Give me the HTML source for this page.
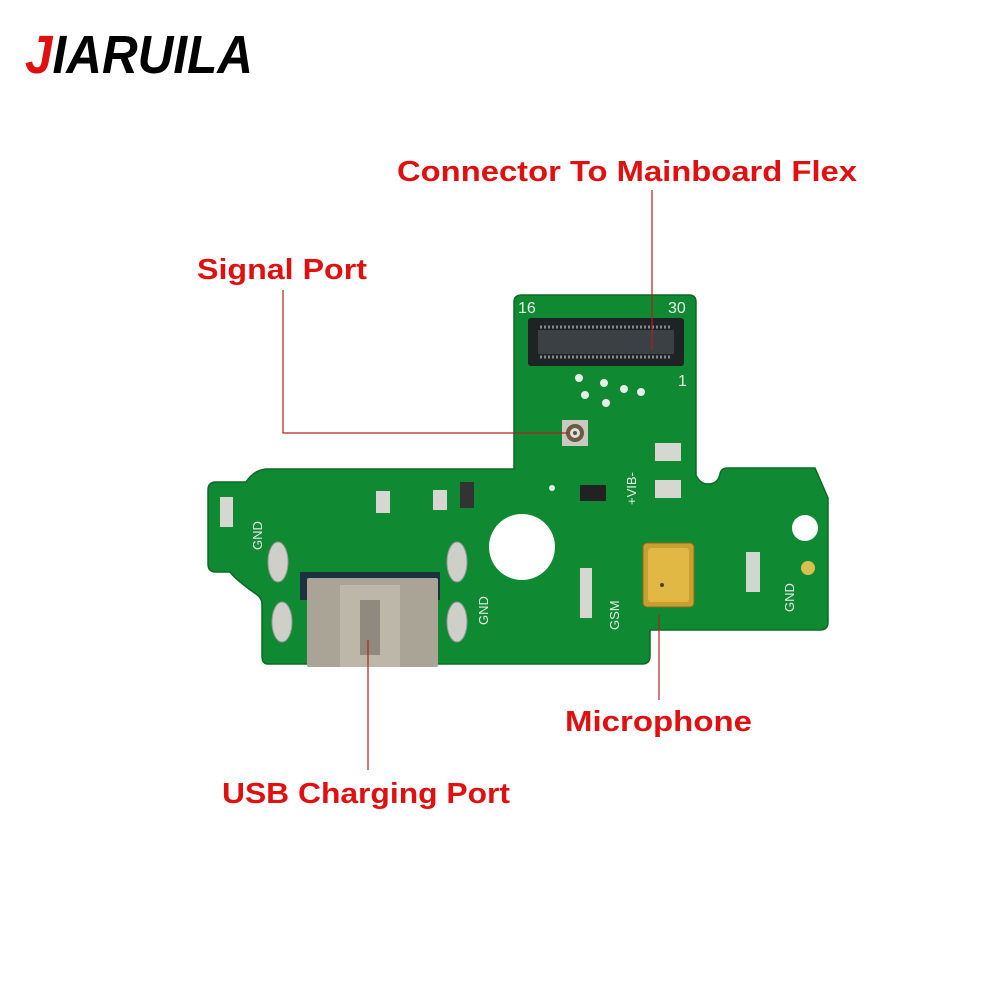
<!DOCTYPE html>
<html><head><meta charset="utf-8"><style>html,body{margin:0;padding:0;background:#fff}svg{display:block}</style></head>
<body>
<svg width="1000" height="1000" viewBox="0 0 1000 1000" xmlns="http://www.w3.org/2000/svg">
<rect width="1000" height="1000" fill="#fff"/>
<text x="25" y="73" font-family="Liberation Sans, sans-serif" font-weight="bold" font-style="italic" font-size="54" textLength="228" lengthAdjust="spacingAndGlyphs" fill="#000"><tspan fill="#e01010">J</tspan>IARUILA</text>

<!-- PCB -->
<path d="M522,295 H689 Q696,295 696,302 V475 Q700,484 708,484 Q718,484 720,474 Q721,468 728,468 H815 L828,498 V622 Q828,630 820,630 H650 V656 Q650,664 642,664 H268 Q262,664 262,656 V604 Q262,598 256,594 Q236,580 230,572 H216 Q208,572 208,564 V490 Q208,482 216,482 H246 Q254,470 266,469 H514 V302 Q514,295 522,295 Z" fill="#0f8a32" stroke="#0a6a25" stroke-width="1.5"/>
<circle cx="522" cy="547" r="33" fill="#fff"/>
<circle cx="805" cy="528" r="13" fill="#fff"/>
<circle cx="808" cy="568" r="7" fill="#d9c050"/>
<!-- connector -->
<rect x="528" y="318" width="156" height="48" rx="3" fill="#1e2326"/>
<rect x="538" y="330" width="136" height="24" fill="#3a4044"/>
<line x1="540" y1="327" x2="672" y2="327" stroke="#888" stroke-width="3" stroke-dasharray="2,2"/>
<line x1="540" y1="357" x2="672" y2="357" stroke="#888" stroke-width="3" stroke-dasharray="2,2"/>
<text x="518" y="313" font-family="Liberation Sans, sans-serif" font-size="16" fill="#e8f0e8">16</text>
<text x="668" y="313" font-family="Liberation Sans, sans-serif" font-size="16" fill="#e8f0e8">30</text>
<text x="678" y="386" font-family="Liberation Sans, sans-serif" font-size="16" fill="#e8f0e8">1</text>
<!-- dots -->
<g fill="#e6eee6"><circle cx="579" cy="378" r="4"/><circle cx="604" cy="383" r="4"/><circle cx="624" cy="389" r="4"/><circle cx="641" cy="392" r="4"/><circle cx="585" cy="395" r="4"/><circle cx="606" cy="403" r="4"/><circle cx="552" cy="488" r="3"/></g>
<!-- signal port -->
<rect x="562" y="420" width="26" height="26" fill="#c9c9c0"/>
<circle cx="575" cy="433" r="9" fill="#6b5a40"/><circle cx="575" cy="433" r="5" fill="#ddd"/><circle cx="575" cy="433" r="2" fill="#554"/>
<!-- pads -->
<g fill="#d7d7d2"><rect x="655" y="443" width="26" height="18"/><rect x="655" y="480" width="26" height="18"/><rect x="376" y="491" width="14" height="22"/><rect x="433" y="490" width="14" height="20"/><rect x="220" y="497" width="13" height="30"/><rect x="580" y="568" width="12" height="50"/></g>
<rect x="460" y="482" width="14" height="26" fill="#333"/>
<rect x="580" y="485" width="26" height="16" fill="#222"/>
<!-- USB -->
<rect x="300" y="572" width="140" height="28" fill="#1c3040"/>
<rect x="307" y="578" width="131" height="89" rx="2" fill="#a9a496"/>
<rect x="340" y="585" width="60" height="82" fill="#bcb7a8"/>
<rect x="360" y="600" width="20" height="55" fill="#8f8a7d"/>
<g fill="#cfcfca" stroke="#999"><ellipse cx="278" cy="562" rx="10" ry="20"/><ellipse cx="457" cy="562" rx="10" ry="20"/><ellipse cx="282" cy="622" rx="10" ry="20"/><ellipse cx="457" cy="622" rx="10" ry="20"/></g>
<!-- microphone -->
<rect x="643" y="543" width="51" height="64" rx="4" fill="#c9a030" stroke="#8a6a20"/>
<rect x="648" y="548" width="41" height="54" rx="3" fill="#e2b844"/>
<circle cx="662" cy="585" r="2" fill="#442"/>
<rect x="746" y="552" width="14" height="40" fill="#cfd8cf"/>
<g font-family="Liberation Sans, sans-serif" font-size="13" fill="#e8f0e8">
<text transform="translate(262,550) rotate(-90)">GND</text>
<text transform="translate(488,625) rotate(-90)">GND</text>
<text transform="translate(619,630) rotate(-90)">GSM</text>
<text transform="translate(794,612) rotate(-90)">GND</text>
<text transform="translate(636,505) rotate(-90)">+VIB-</text>
</g>

<!-- leader lines -->
<g stroke="#b02020" stroke-width="1.2" fill="none">
<line x1="652" y1="190" x2="652" y2="350"/>
<polyline points="283,290 283,433 568,433"/>
<line x1="659" y1="615" x2="659" y2="700"/>
<line x1="368" y1="640" x2="368" y2="770"/>
</g>
<g font-family="Liberation Sans, sans-serif" font-weight="bold" font-size="29" fill="#e01010">
<text x="397" y="181" textLength="460" lengthAdjust="spacingAndGlyphs">Connector To Mainboard Flex</text>
<text x="197" y="279" textLength="170" lengthAdjust="spacingAndGlyphs">Signal Port</text>
<text x="565" y="731" textLength="187" lengthAdjust="spacingAndGlyphs">Microphone</text>
<text x="222" y="803" textLength="288" lengthAdjust="spacingAndGlyphs">USB Charging Port</text>
</g>
</svg>
</body></html>
